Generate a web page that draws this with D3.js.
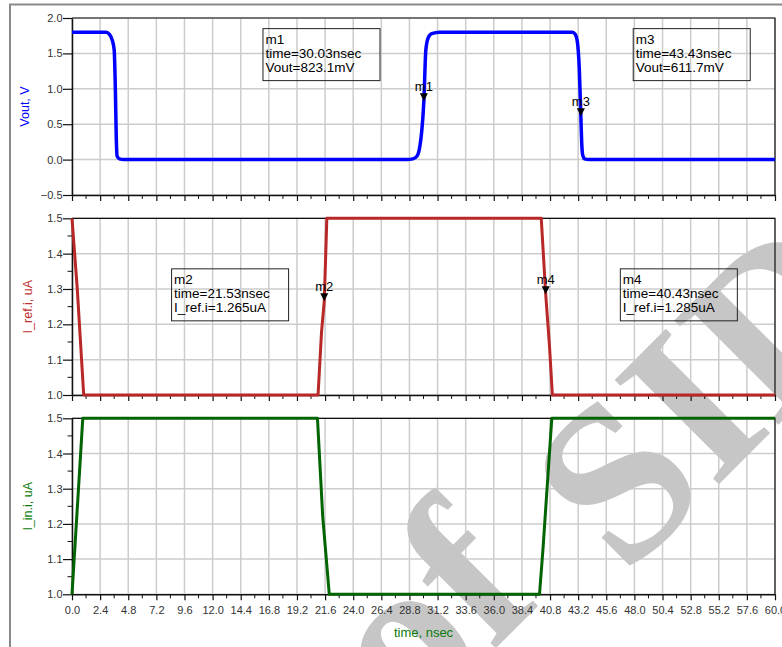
<!DOCTYPE html>
<html>
<head>
<meta charset="utf-8">
<script src="https://cdn.jsdelivr.net/npm/d3@7/dist/d3.min.js"></script>
<style>
  html, body { margin: 0; padding: 0; background: #fff; }
  svg { display: block; font-family: "Liberation Sans", Arial, sans-serif; }
</style>
</head>
<body>
<svg id="chart" width="782" height="647"></svg>
<script>
// Transient simulation: output voltage and two branch currents vs time
const timeTicks = d3.range(0, 26).map(i => +(i * 2.4).toFixed(1));

const voutTime = [0, 2.9, 3.2, 3.45, 3.6, 3.7, 3.78, 3.85, 4.05, 4.4,
  28.6, 29.1, 29.45, 29.7, 29.85, 30.03, 30.2, 30.4, 30.7, 31.4,
  42.7, 42.95, 43.12, 43.3, 43.43, 43.5, 43.58, 43.75, 44.1, 60];
const voutValue = [1.8, 1.8, 1.77, 1.68, 1.55, 1.0, 0.3, 0.05, 0.01, 0.0,
  0.0, 0.01, 0.05, 0.2, 0.4, 0.8231, 1.55, 1.72, 1.78, 1.8,
  1.8, 1.77, 1.68, 1.27, 0.6117, 0.25, 0.07, 0.01, 0.0, 0.0];

const irefTime = [0, 0.45, 1.0, 21.0, 21.3, 21.53, 21.75, 40.05, 40.43, 40.75, 41.0, 60];
const irefValue = [1.5, 1.3, 1.0, 1.0, 1.18, 1.265, 1.5, 1.5, 1.285, 1.14, 1.0, 1.0];

const iinTime = [0, 0.37, 0.92, 20.95, 21.4, 21.96, 39.9, 40.2, 40.95, 60];
const iinValue = [1.0, 1.2, 1.5, 1.5, 1.22, 1.0, 1.0, 1.13, 1.5, 1.5];

const markerNames = ["m1", "m2", "m3", "m4"];
const markerPanel = [0, 1, 0, 1];
const markerTime = [30.03, 21.53, 43.43, 40.43];
const markerValue = [0.8231, 1.265, 0.6117, 1.285];
const markerLines = [
  ["m1", "time=30.03nsec", "Vout=823.1mV"],
  ["m2", "time=21.53nsec", "I_ref.i=1.265uA"],
  ["m3", "time=43.43nsec", "Vout=611.7mV"],
  ["m4", "time=40.43nsec", "I_ref.i=1.285uA"]
];
// readout box anchors in data coordinates (time, value) of their top-left corner
const boxTime = [16.3, 8.5, 47.9, 46.8];
const boxValue = [1.85, 1.357, 1.85, 1.357];

const svg = d3.select("#chart");

// outer frame
svg.append("path")
  .attr("d", "M10,647 V4.5 H782")
  .attr("fill", "none").attr("stroke", "#8a8a8a").attr("stroke-width", 2);

const x = d3.scaleLinear().domain([0, 60]).range([72, 775]);

const panels = [
  { name: "Vout, V", color: "#0000ff", lineColor: "#0000ff", lineWidth: 3.5,
    domain: [-0.5, 2.0], range: [195, 18], ticks: [-0.5, 0, 0.5, 1.0, 1.5, 2.0], minor: [],
    times: voutTime, values: voutValue, curve: d3.curveMonotoneX },
  { name: "I_ref.i, uA", color: "#c0302f", lineColor: "#b82828", lineWidth: 3,
    domain: [1.0, 1.5], range: [395, 218.3], ticks: [1.0, 1.1, 1.2, 1.3, 1.4, 1.5],
    minor: [1.05, 1.15, 1.25, 1.35, 1.45],
    times: irefTime, values: irefValue, curve: d3.curveLinear },
  { name: "I_in.i, uA", color: "#0a7a0a", lineColor: "#006400", lineWidth: 3,
    domain: [1.0, 1.5], range: [594.3, 418.3], ticks: [1.0, 1.1, 1.2, 1.3, 1.4, 1.5],
    minor: [1.05, 1.15, 1.25, 1.35, 1.45],
    times: iinTime, values: iinValue, curve: d3.curveLinear }
];

const minorX = d3.range(0, 25).map(i => +(1.2 + i * 2.4).toFixed(1));
const tickColor = "#333";

panels.forEach((p, pi) => {
  const y = d3.scaleLinear().domain(p.domain).range(p.range);
  p.y = y;
  const g = svg.append("g");

  // grid
  g.append("g").selectAll("line").data(timeTicks).join("line")
    .attr("x1", d => x(d)).attr("x2", d => x(d))
    .attr("y1", p.range[1]).attr("y2", p.range[0])
    .attr("stroke", "#cccccc").attr("stroke-width", 1.5);
  g.append("g").selectAll("line").data(p.ticks).join("line")
    .attr("x1", x(0)).attr("x2", x(60))
    .attr("y1", d => y(d)).attr("y2", d => y(d))
    .attr("stroke", "#cccccc").attr("stroke-width", 1.5);
});

// watermark words across the lower right
const wm = svg.append("g")
  .attr("font-family", "Liberation Serif, Times New Roman, serif")
  .attr("font-size", 225)
  .attr("font-weight", "bold")
  .attr("fill", "#c6c6c6");
wm.append("text").attr("transform", "translate(412,732) rotate(-45)").text("of");
wm.append("text").attr("transform", "translate(625,578) rotate(-45)").text("SID");

panels.forEach((p, pi) => {
  const y = p.y;
  const g = svg.append("g");

  // frame top / right
  g.append("path")
    .attr("d", `M${x(0)},${p.range[1]} H${x(60)} V${p.range[0]}`)
    .attr("fill", "none").attr("stroke", "#111").attr("stroke-width", 1.2);

  // x axis (major + minor ticks)
  const xAxis = d3.axisBottom(x).tickValues(timeTicks).tickSize(6).tickSizeOuter(0)
    .tickFormat(pi === 2 ? d3.format(".1f") : () => "");
  const gx = g.append("g").attr("transform", `translate(0,${p.range[0]})`).call(xAxis);
  gx.append("g").selectAll("line").data(minorX).join("line")
    .attr("x1", d => x(d)).attr("x2", d => x(d)).attr("y1", 0).attr("y2", 4)
    .attr("stroke", "#111");
  gx.select(".domain").attr("stroke", "#111").attr("stroke-width", 1.5);
  gx.selectAll(".tick line").attr("stroke", "#111").attr("stroke-width", 1.2);
  gx.selectAll(".tick text").attr("fill", tickColor).attr("font-size", 11)
    .attr("font-family", "Liberation Sans, Arial, sans-serif").attr("dy", "0.95em");

  // y axis
  const yAxis = d3.axisLeft(y).tickValues(p.ticks).tickSize(9).tickSizeOuter(0)
    .tickFormat(d3.format(".1f"));
  const gy = g.append("g").attr("transform", `translate(${x(0)},0)`).call(yAxis);
  gy.append("g").selectAll("line").data(p.minor).join("line")
    .attr("x1", -4.5).attr("x2", 0).attr("y1", d => y(d)).attr("y2", d => y(d))
    .attr("stroke", "#111");
  gy.select(".domain").attr("stroke", "#111").attr("stroke-width", 1.5);
  gy.selectAll(".tick line").attr("stroke", "#111").attr("stroke-width", 1.2);
  gy.selectAll(".tick text").attr("fill", tickColor).attr("font-size", 11)
    .attr("font-family", "Liberation Sans, Arial, sans-serif").attr("x", -9.5);

  // axis title
  const midY = (p.range[0] + p.range[1]) / 2;
  g.append("text")
    .attr("transform", `translate(${pi === 0 ? 29 : 32},${midY}) rotate(-90)`)
    .attr("text-anchor", "middle")
    .attr("fill", p.color).attr("font-size", 12.5)
    .text(p.name);
});

// traces
panels.forEach(p => {
  const pts = p.times.map((t, i) => [t, p.values[i]]);
  svg.append("path")
    .datum(pts)
    .attr("fill", "none")
    .attr("stroke", p.lineColor)
    .attr("stroke-width", p.lineWidth)
    .attr("stroke-linejoin", "round")
    .attr("d", d3.line().x(d => x(d[0])).y(d => p.y(d[1])).curve(p.curve));
});

// markers
markerNames.forEach((m, i) => {
  const p = panels[markerPanel[i]];
  const mx = x(markerTime[i]);
  const my = p.y(markerValue[i]);
  svg.append("path")
    .attr("d", `M${mx},${my} L${mx - 4},${my - 8} L${mx + 4},${my - 8} Z`)
    .attr("fill", "#000");
  svg.append("text")
    .attr("x", mx).attr("y", my - 10)
    .attr("text-anchor", "middle")
    .attr("font-size", 13).attr("fill", "#000")
    .text(m);

  const bx = x(boxTime[i]);
  const by = p.y(boxValue[i]);
  const g = svg.append("g");
  g.append("rect")
    .attr("x", bx).attr("y", by).attr("width", 117).attr("height", 52)
    .attr("fill", "none").attr("stroke", "#222").attr("stroke-width", 1);
  markerLines[i].forEach((line, k) => {
    g.append("text")
      .attr("x", bx + 2.5).attr("y", by + 15 + k * 14)
      .attr("font-size", 13.5).attr("fill", "#000")
      .text(line);
  });
});

// x axis title
svg.append("text")
  .attr("x", (x(0) + x(60)) / 2).attr("y", 637)
  .attr("text-anchor", "middle")
  .attr("fill", "#0a7a0a").attr("font-size", 13)
  .text("time, nsec");
</script>
</body>
</html>
